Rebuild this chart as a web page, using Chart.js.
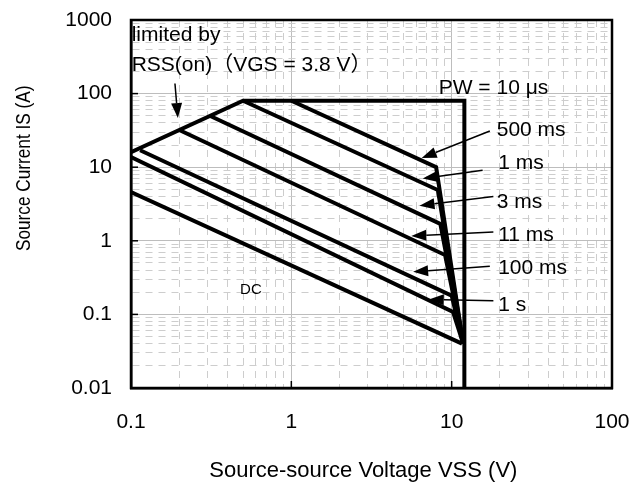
<!DOCTYPE html>
<html>
<head>
<meta charset="utf-8">
<title>Safe operating area</title>
<script src="https://cdn.jsdelivr.net/npm/chart.js@4.4.1/dist/chart.umd.min.js"></script>
<style>
    html, body { margin: 0; padding: 0; background: #fff; }
    #wrap { width: 643px; height: 486px; }
</style>
</head>
<body>
<div id="wrap"><canvas id="soaChart" width="643" height="486"></canvas></div>
<script>
// Values (log-log SOA plot)
const xTickValues = [0.1, 1, 10, 100];
const yTickValues = [0.01, 0.1, 1, 10, 100, 1000];

// PW = 10 us envelope
const envelopeV = [0.1, 0.5, 12, 12];
const envelopeI = [16, 80, 80, 0.01];

// pulse width lines
const pulse500V = [1, 8, 11.8];
const pulse500I = [80, 10, 0.04];
const pulse1msV = [0.5, 8.2, 11.8];
const pulse1msI = [80, 4.9, 0.04];
const pulse3msV = [0.31, 8.5, 11.8];
const pulse3msI = [50, 1.7, 0.04];
const pulse11msV = [0.2, 9.1, 11.8];
const pulse11msI = [32, 0.64, 0.04];
const pulse100msV = [0.114, 10, 11.8];
const pulse100msI = [17, 0.18, 0.04];
const pulse1sV = [0.1, 10.2, 11.8];
const pulse1sI = [13.7, 0.108, 0.04];
const dcV = [0.1, 11.6];
const dcI = [4.6, 0.04];

// annotation texts, anchored in data space (left edge, middle)
const noteTexts = ['limited by', 'RSS(on)\uFF08VGS = 3.8 V\uFF09', 'PW = 10 \u03BCs', '500 ms', '1 ms', '3 ms', '11 ms', '100 ms', '1 s', 'DC'];
const noteV = [0.101, 0.101, 8.3, 19.1, 19.5, 19.1, 19.5, 19.5, 19.5, 0.479];
const noteI = [616, 241, 118, 31.6, 11.2, 3.37, 1.19, 0.42, 0.134, 0.214];

// arrows: tail -> head, data space
const arrowFromV = [0.188, 17.3, 15.6, 18.2, 18.2, 17.3, 18.2];
const arrowFromI = [137, 31, 9.1, 4.0, 1.32, 0.45, 0.153];
const arrowToV = [0.196, 6.5, 6.6, 6.3, 5.6, 5.75, 7.2];
const arrowToI = [46.5, 13.3, 7.0, 3.0, 1.16, 0.38, 0.16];

const FONT = "'Liberation Sans', Arial, 'Noto Sans CJK JP', sans-serif";

function toPoints(xs, ys) {
    return xs.map((x, i) => ({ x: x, y: ys[i] }));
}

function isDecade(v) {
    const l = Math.log10(v);
    return Math.abs(l - Math.round(l)) < 1e-6;
}

// 1..9 x 10^n grid values between min and max
function gridValues(min, max) {
    const out = [];
    for (let e = Math.round(Math.log10(min)); e < Math.round(Math.log10(max)); e++) {
        for (let k = 1; k <= 9; k++) {
            out.push(Number((k * Math.pow(10, e)).toPrecision(6)));
        }
    }
    out.push(max);
    return out;
}

function tickLabel(list) {
    return (v) => {
        const hit = list.find(t => Math.abs(Math.log10(t) - Math.log10(v)) < 1e-6);
        return hit !== undefined ? String(hit) : '';
    };
}

function lineSet(label, xs, ys) {
    return {
        label: label,
        data: toPoints(xs, ys),
        showLine: true,
        borderColor: '#000',
        borderWidth: 4,
        pointRadius: 0,
        fill: false,
        tension: 0
    };
}

const gridOpts = {
    color: (ctx) => (ctx.tick && isDecade(ctx.tick.value)) ? '#bdbdbd' : '#cdcdcd',
    lineWidth: 1,
    drawTicks: false
};
const borderOpts = {
    color: '#000',
    width: 2.5,
    dash: (ctx) => (ctx.tick && !isDecade(ctx.tick.value)) ? [7, 6] : []
};

function drawArrow(ctx, x1, y1, x2, y2) {
    const ang = Math.atan2(y2 - y1, x2 - x1);
    const len = 15, half = 5.5;
    const bx = x2 - len * Math.cos(ang), by = y2 - len * Math.sin(ang);
    ctx.beginPath();
    ctx.moveTo(x1, y1);
    ctx.lineTo(bx, by);
    ctx.stroke();
    ctx.beginPath();
    ctx.moveTo(x2, y2);
    ctx.lineTo(bx + half * Math.sin(ang), by - half * Math.cos(ang));
    ctx.lineTo(bx - half * Math.sin(ang), by + half * Math.cos(ang));
    ctx.closePath();
    ctx.fill();
}

// frame, inner ticks, arrows, notes and axis titles
const soaDecor = {
    id: 'soaDecor',
    afterDatasetsDraw(chart) {
        const ctx = chart.ctx;
        const xs = chart.scales.x, ys = chart.scales.y;
        const a = chart.chartArea;
        ctx.save();

        ctx.strokeStyle = '#000';
        ctx.lineWidth = 2.5;
        ctx.strokeRect(a.left, a.top, a.right - a.left, a.bottom - a.top);

        ctx.lineWidth = 1.5;
        xTickValues.forEach(v => {
            const px = xs.getPixelForValue(v);
            ctx.beginPath(); ctx.moveTo(px, a.bottom); ctx.lineTo(px, a.bottom - 7); ctx.stroke();
        });
        yTickValues.forEach(v => {
            const py = ys.getPixelForValue(v);
            ctx.beginPath(); ctx.moveTo(a.left, py); ctx.lineTo(a.left + 7, py); ctx.stroke();
        });

        ctx.fillStyle = '#000';
        ctx.lineWidth = 1.5;
        arrowFromV.forEach((v, i) => {
            drawArrow(ctx,
                xs.getPixelForValue(v), ys.getPixelForValue(arrowFromI[i]),
                xs.getPixelForValue(arrowToV[i]), ys.getPixelForValue(arrowToI[i]));
        });

        ctx.textAlign = 'left';
        ctx.textBaseline = 'middle';
        noteTexts.forEach((t, i) => {
            ctx.font = (t === 'DC' ? '15px ' : '21px ') + FONT;
            ctx.fillText(t, xs.getPixelForValue(noteV[i]), ys.getPixelForValue(noteI[i]));
        });

        // axis titles
        ctx.textAlign = 'center';
        ctx.font = '22px ' + FONT;
        ctx.fillText('Source-source Voltage VSS (V)', a.left + (a.right - a.left) * 0.483, 471);

        ctx.translate(24, a.top + (a.bottom - a.top) * 0.403);
        ctx.rotate(-Math.PI / 2);
        ctx.scale(0.82, 1);
        ctx.font = '21px ' + FONT;
        ctx.fillText('Source Current IS (A)', 0, 0);
        ctx.restore();
    }
};

new Chart(document.getElementById('soaChart'), {
    type: 'scatter',
    data: {
        datasets: [
            lineSet('PW = 10 us', envelopeV, envelopeI),
            lineSet('500 ms', pulse500V, pulse500I),
            lineSet('1 ms', pulse1msV, pulse1msI),
            lineSet('3 ms', pulse3msV, pulse3msI),
            lineSet('11 ms', pulse11msV, pulse11msI),
            lineSet('100 ms', pulse100msV, pulse100msI),
            lineSet('1 s', pulse1sV, pulse1sI),
            lineSet('DC', dcV, dcI)
        ]
    },
    options: {
        responsive: false,
        devicePixelRatio: 1,
        animation: false,
        layout: { padding: { left: 0, top: 20, right: 31, bottom: 0 } },
        plugins: {
            legend: { display: false },
            tooltip: { enabled: false }
        },
        scales: {
            x: {
                type: 'logarithmic',
                min: 0.1,
                max: 100,
                afterBuildTicks: (axis) => { axis.ticks = gridValues(0.1, 100).map(v => ({ value: v })); },
                afterFit: (s) => { s.height = 98; s.paddingLeft = 0; s.paddingRight = 0; },
                ticks: {
                    autoSkip: false,
                    maxRotation: 0,
                    padding: 22,
                    color: '#000',
                    font: { family: FONT, size: 21 },
                    callback: tickLabel(xTickValues)
                },
                grid: gridOpts,
                border: borderOpts
            },
            y: {
                type: 'logarithmic',
                min: 0.01,
                max: 1000,
                afterBuildTicks: (axis) => { axis.ticks = gridValues(0.01, 1000).map(v => ({ value: v })); },
                afterFit: (s) => { s.width = 131; s.paddingTop = 0; s.paddingBottom = 0; },
                ticks: {
                    autoSkip: false,
                    padding: 19,
                    color: '#000',
                    font: { family: FONT, size: 21 },
                    callback: tickLabel(yTickValues)
                },
                grid: gridOpts,
                border: borderOpts
            }
        }
    },
    plugins: [soaDecor]
});
</script>
</body>
</html>
